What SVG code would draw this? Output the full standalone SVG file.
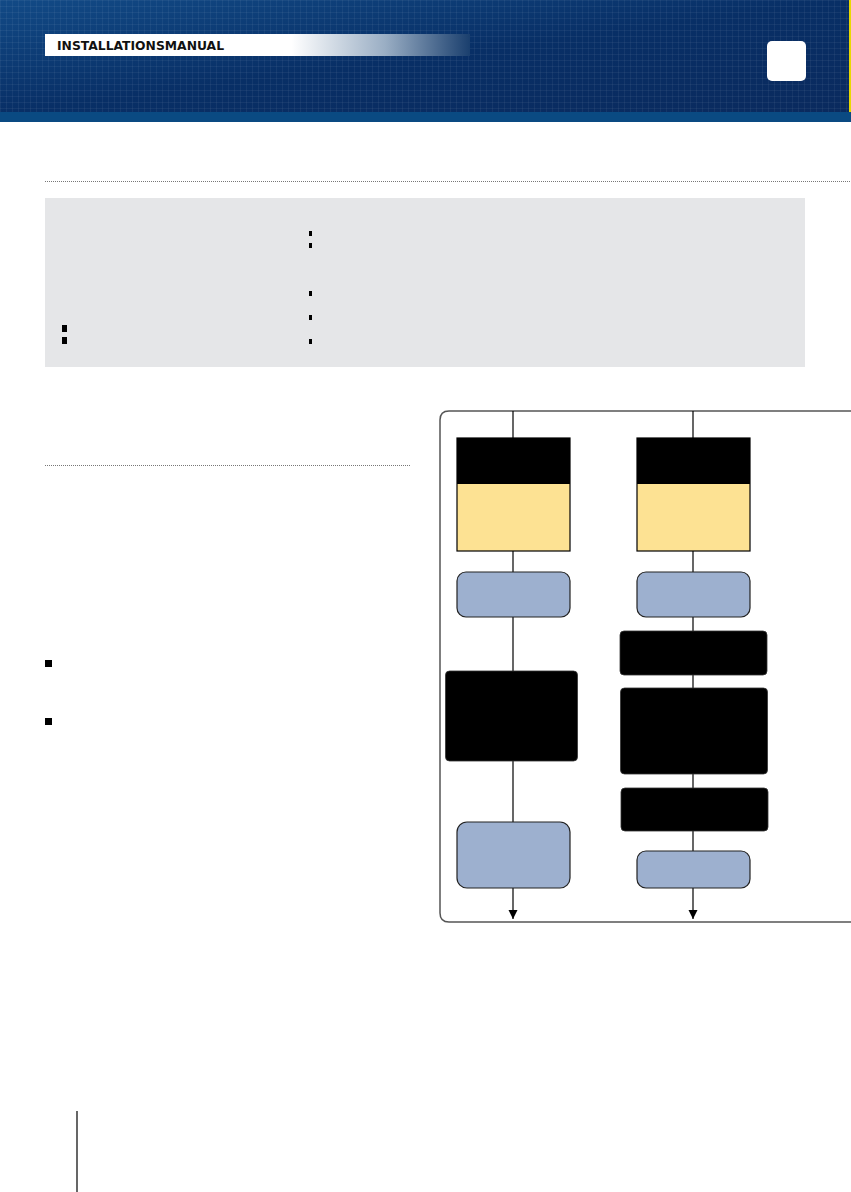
<svg xmlns="http://www.w3.org/2000/svg" width="851" height="1192" viewBox="0 0 851 1192">
<style>
.conn{stroke:#000;stroke-width:1.2;fill:none}
.yel{fill:#fde293;stroke:#000;stroke-width:1.2}
.hdr{fill:#000}
.blue{fill:#9db0cf;stroke:#222;stroke-width:1.2}
.blk{fill:#000;stroke:#333;stroke-width:0.8}
.dot{stroke:#777;stroke-width:1.2;stroke-dasharray:1 1}
.bul{fill:#000}
</style>
<defs>
<linearGradient id="hg" x1="0" y1="0" x2="1" y2="1">
<stop offset="0" stop-color="#124a86"/>
<stop offset="0.5" stop-color="#082f66"/>
<stop offset="1" stop-color="#0a2a5e"/>
</linearGradient>
<linearGradient id="lg" x1="45" y1="0" x2="470" y2="0" gradientUnits="userSpaceOnUse">
<stop offset="0" stop-color="#fff"/>
<stop offset="0.58" stop-color="#fff"/>
<stop offset="0.8" stop-color="#9aaec4"/>
<stop offset="1" stop-color="#1a3f6e"/>
</linearGradient>
<pattern id="grid" width="6" height="6" patternUnits="userSpaceOnUse">
<path d="M0 0.5H6M0.5 0V6" stroke="#ffffff" stroke-opacity="0.05" stroke-width="1"/>
</pattern>
<marker id="arr" viewBox="0 0 10 10" refX="10" refY="5" markerWidth="9" markerHeight="11" markerUnits="userSpaceOnUse" orient="auto">
<path d="M0 0L10 5L0 10z" fill="#000"/>
</marker>
</defs>
<rect width="851" height="1192" fill="#fff"/>
<g id="header">
<rect x="0" y="0" width="851" height="113" fill="url(#hg)"/>
<rect x="0" y="0" width="851" height="113" fill="url(#grid)"/>
<rect x="0" y="112" width="851" height="10" fill="#0a4a82"/>
<rect x="849" y="0" width="2" height="112" fill="#e8d800"/>
<rect x="45" y="34" width="425" height="22" fill="url(#lg)"/>
<text x="57" y="49.5" font-family="DejaVu Sans, Verdana, sans-serif" font-weight="bold" font-size="12.2" fill="#111" textLength="167" lengthAdjust="spacingAndGlyphs">INSTALLATIONSMANUAL</text>
<rect x="767" y="41" width="39" height="40" rx="5" fill="#fff"/>
</g>
<g id="page">
<line class="dot" x1="45" y1="181.5" x2="851" y2="181.5"/>
<rect x="45" y="198" width="760" height="169" fill="#e5e6e8"/>
<rect class="bul" x="309" y="231" width="3" height="5"/>
<rect class="bul" x="309" y="243" width="3" height="5"/>
<rect class="bul" x="309" y="291" width="3" height="5"/>
<rect class="bul" x="309" y="315" width="3" height="5"/>
<rect class="bul" x="309" y="339" width="3" height="5"/>
<rect class="bul" x="62" y="325" width="5" height="7"/>
<rect class="bul" x="62" y="337" width="5" height="7"/>
<line class="dot" x1="45" y1="465.5" x2="411" y2="465.5"/>
<rect class="bul" x="45" y="660" width="7" height="7"/>
<rect class="bul" x="45" y="718" width="7" height="7"/>
<line x1="77" y1="1111" x2="77" y2="1192" stroke="#000" stroke-width="1.2"/>
</g>
<g id="frame">
<path d="M851 411H449Q440 411 440 420V913Q440 922 449 922H851" fill="none" stroke="#555" stroke-width="1.5"/>
</g>
<g id="connectors">
<line class="conn" x1="513" y1="411" x2="513" y2="438"/>
<line class="conn" x1="513" y1="551" x2="513" y2="572"/>
<line class="conn" x1="513" y1="617" x2="513" y2="671"/>
<line class="conn" x1="513" y1="761" x2="513" y2="822"/>
<line class="conn" x1="513" y1="888" x2="513" y2="919" marker-end="url(#arr)"/>
<line class="conn" x1="693" y1="411" x2="693" y2="438"/>
<line class="conn" x1="693" y1="551" x2="693" y2="572"/>
<line class="conn" x1="693" y1="617" x2="693" y2="631"/>
<line class="conn" x1="693" y1="675" x2="693" y2="688"/>
<line class="conn" x1="693" y1="774" x2="693" y2="788"/>
<line class="conn" x1="693" y1="831" x2="693" y2="851"/>
<line class="conn" x1="693" y1="888" x2="693" y2="919" marker-end="url(#arr)"/>
</g>
<g id="nodeA1">
<rect class="yel" x="457" y="438" width="113" height="113"/>
<rect class="hdr" x="457" y="438" width="113" height="46"/>
</g>
<g id="nodeB1"><rect class="blue" x="457" y="572" width="113" height="45" rx="9"/></g>
<g id="nodeC1"><rect class="blk" x="445.5" y="671" width="132" height="90" rx="4"/></g>
<g id="nodeD1"><rect class="blue" x="457" y="822" width="113" height="66" rx="10"/></g>
<g id="nodeA2">
<rect class="yel" x="637" y="438" width="113" height="113"/>
<rect class="hdr" x="637" y="438" width="113" height="46"/>
</g>
<g id="nodeB2"><rect class="blue" x="637" y="572" width="113" height="45" rx="9"/></g>
<g id="nodeC2"><rect class="blk" x="620" y="631" width="147" height="44" rx="4"/></g>
<g id="nodeD2"><rect class="blk" x="620.5" y="688" width="147" height="86" rx="4"/></g>
<g id="nodeE2"><rect class="blk" x="621" y="788" width="147" height="43" rx="4"/></g>
<g id="nodeF2"><rect class="blue" x="637" y="851" width="113" height="37" rx="9"/></g>
</svg>
